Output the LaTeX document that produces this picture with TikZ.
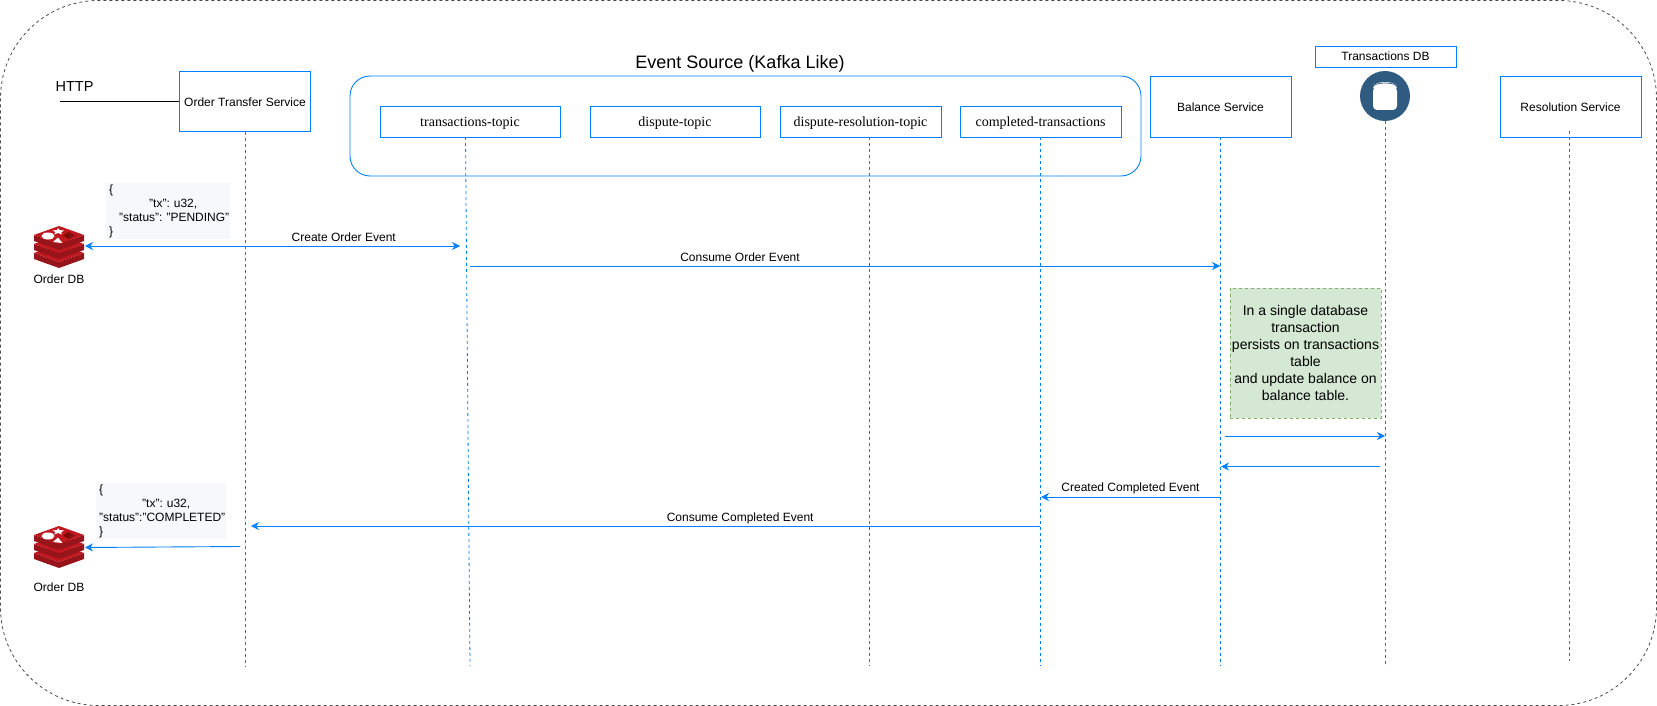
\documentclass[tikz,border=0pt]{standalone}
\usepackage{fontspec}
\setmainfont{Liberation Sans}
\newfontfamily\topicfont{Liberation Serif}
\usetikzlibrary{arrows.meta}
\definecolor{flowblue}{HTML}{007FFF}
\definecolor{notegreen}{HTML}{D5E8D4}
\definecolor{noteedge}{HTML}{82B366}
\definecolor{jsongray}{HTML}{F6F8FA}
\definecolor{dbblue}{HTML}{2F5B80}
\definecolor{redisdark}{HTML}{96141A}
\definecolor{redistop}{HTML}{C1171F}
\definecolor{redisshade}{HTML}{7A0C00}
\frenchspacing
\begin{document}
\begin{tikzpicture}[x=1pt,y=-1pt,
  service/.style={draw=flowblue,line width=0.9pt,fill=white,minimum width=141pt,minimum height=61pt,inner sep=0pt,text height=11pt,text depth=0.5pt,font=\fontsize{12}{14}\selectfont},
  topic/.style={draw=flowblue,line width=0.9pt,fill=white,minimum height=31pt,inner sep=0pt,text height=13pt,text depth=3pt,font=\topicfont\fontsize{14}{16}\selectfont},
  lifeline/.style={flowblue,line width=0.8pt,dash pattern=on 3pt off 3pt},
  msg/.style={flowblue,line width=0.9pt,-{Stealth[length=8pt,width=8pt]}},
  msglabel/.style={black,inner sep=3.5pt,font=\fontsize{12}{14}\selectfont},
  plain/.style={inner sep=0pt,font=\fontsize{12}{14}\selectfont},
  jsonbox/.style={fill=jsongray,inner sep=0pt,align=left,anchor=north west,font=\fontsize{12}{14}\selectfont},
  redisicon/.pic={
    \foreach \o in {18,9,0}{
      \fill[redisdark] (-25,-12+\o) -- (0,-3+\o) -- (25,-12+\o) -- (25,-6+\o) -- (0,3+\o) -- (-25,-6+\o) -- cycle;
      \fill[redistop] (-25,-12+\o) -- (0,-21+\o) -- (25,-12+\o) -- (0,-3+\o) -- cycle;
    }
    \fill[white] (-11,-11) ellipse (6.5 and 3.5);
    \fill[white] (-1,-19) -- (0.5,-17) -- (5,-16.5) -- (2,-14.5) -- (3,-12.5) -- (-1,-14) -- (-5,-12.5) -- (-3.5,-15) -- (-6.5,-16.5) -- (-2,-17) -- cycle;
    \fill[white] (-6,-5) -- (-1,-9.5) -- (3.5,-4) -- cycle;
    \fill[redisshade] (10,-15) -- (4,-11.5) -- (10,-8) -- cycle;
    \fill[redisdark!85!black] (10,-15) -- (16,-11.5) -- (10,-8) -- cycle;
  },
  cylindericon/.pic={
    \fill[dbblue] (0,0) circle (25);
    \fill[white,rounded corners=4pt] (-12,-9) rectangle (12,14);
    \fill[white] (0,-9) ellipse (12 and 5);
    \draw[dbblue,line width=0.7pt] (-12,-9) arc[start angle=180,end angle=360,x radius=12,y radius=4];
  }]
\useasboundingbox (0,0) rectangle (1657,706);
\draw[dashed,line width=0.8pt,black!70,dash pattern=on 3pt off 3pt,rounded corners=98pt] (0.5,0.5) rectangle (1656.5,705.5);

\node[draw=flowblue,line width=0.9pt,rounded corners=20pt,minimum width=791pt,minimum height=100pt] (eventSource) at (745.5,126) {};
\node[plain,font=\fontsize{18}{20}\selectfont] (eventTitle) at (740,63.5) {Event Source (Kafka Like)};

\node[service,minimum width=131pt,minimum height=60pt] (orderService) at (245,101.5) {Order Transfer Service};
\node[service] (balanceService) at (1220.5,106.5) {Balance Service};
\node[service] (resolutionService) at (1570.5,106.5) {Resolution Service};
\node[topic,minimum width=180pt] (txTopic) at (470,121.5) {transactions-topic};
\node[topic,minimum width=170pt] (disputeTopic) at (675,121.5) {dispute-topic};
\node[topic,minimum width=161pt] (resolutionTopic) at (860.5,121.5) {dispute-resolution-topic};
\node[topic,minimum width=161pt] (completedTopic) at (1040.5,121.5) {completed-transactions};
\node[draw=flowblue,line width=0.9pt,minimum width=141pt,minimum height=21pt,inner sep=0pt,font=\fontsize{12}{14}\selectfont] (txDbTitle) at (1385.5,56.5) {Transactions DB};

\pic at (1385,96) {cylindericon};
\coordinate (txDb) at (1385,121);

\coordinate (httpStart) at (60,101.5);
\node[plain,font=\fontsize{14.5}{16}\selectfont] (httpLabel) at (74.5,87) {HTTP};
\draw[black,line width=0.9pt] (httpStart) -- (orderService.west);

\coordinate (orderEnd) at (245,667);
\coordinate (txTopicEnd) at (470,666);
\coordinate (txTopicStart) at (465.5,137);
\coordinate (resolutionEnd) at (869,666);
\coordinate (resolutionStart) at (869,137);
\coordinate (completedEnd) at (1040.5,666);
\coordinate (completedStart) at (1040.5,137);
\coordinate (balanceEnd) at (1220.5,666);
\coordinate (txDbEnd) at (1385,667);
\coordinate (serviceEnd) at (1569.5,661);
\coordinate (serviceStart) at (1569.5,131);
\draw[lifeline] (orderService.south) -- (orderEnd);
\draw[lifeline] (txTopicStart) -- (txTopicEnd);
\draw[lifeline] (resolutionStart) -- (resolutionEnd);
\draw[lifeline] (completedStart) -- (completedEnd);
\draw[lifeline] (balanceService.south) -- (balanceEnd);
\draw[lifeline] (txDb) -- (txDbEnd);
\draw[lifeline] (serviceStart) -- (serviceEnd);

\node[jsonbox,minimum width=124pt,minimum height=56pt] (jsonPending) at (106,183) {};
\node[plain,align=left,anchor=west,text width=124pt,font=\fontsize{12}{14}\selectfont] (jsonPendingText) at (109,211) {\{\\\hspace*{40pt}"tx": u32,\\\hspace*{10pt}"status": "PENDING"\\\}};
\node[jsonbox,minimum width=130pt,minimum height=56pt] (jsonCompleted) at (96,483) {};
\node[plain,align=left,anchor=west,text width=130pt,font=\fontsize{12}{14}\selectfont] (jsonCompletedText) at (99,511) {\{\\\hspace*{43pt}"tx": u32,\\"status":"COMPLETED"\\\}};

\pic at (59,247) {redisicon};
\pic at (59,547) {redisicon};
\node[plain] (orderDbTop) at (59,279) {Order DB};
\node[plain] (orderDbBottom) at (59,587) {Order DB};

\coordinate (createLeft) at (85,246);
\coordinate (createRight) at (460,246);
\coordinate (consumeLeft) at (470,266);
\coordinate (consumeRight) at (1220,266);
\coordinate (persistLeft) at (1225,436);
\coordinate (persistRight) at (1385,436);
\coordinate (ackRight) at (1380,466.5);
\coordinate (ackLeft) at (1221,466.5);
\coordinate (createdRight) at (1220,497);
\coordinate (createdLeft) at (1041,497);
\coordinate (completedRight) at (1040,526);
\coordinate (completedLeft) at (251,526);
\coordinate (savedRight) at (240,546.5);
\coordinate (savedLeft) at (85,547.5);
\draw[msg,{Stealth[length=8pt,width=8pt]}-{Stealth[length=8pt,width=8pt]}] (createLeft) -- (createRight) node[msglabel,pos=.69,above] (createLabel) {Create Order Event};
\draw[msg] (consumeLeft) -- (consumeRight) node[msglabel,pos=.36,above] (consumeLabel) {Consume Order Event};
\draw[msg] (persistLeft) -- (persistRight);
\draw[msg] (ackRight) -- (ackLeft);
\draw[msg] (createdRight) -- (createdLeft) node[msglabel,midway,above,yshift=-1pt] (createdLabel) {Created Completed Event};
\draw[msg] (completedRight) -- (completedLeft) node[msglabel,pos=.38,above,yshift=-2pt] (completedLabel) {Consume Completed Event};
\draw[msg] (savedRight) -- (savedLeft);

\node[draw=noteedge,fill=notegreen,dashed,line width=0.7pt,minimum width=151pt,minimum height=130pt,inner sep=0pt,align=center,font=\fontsize{14}{17}\selectfont] (persistNote) at (1305.5,353) {In a single database\\transaction\\persists on transactions\\table\\and update balance on\\balance table.};
\end{tikzpicture}
\end{document}
